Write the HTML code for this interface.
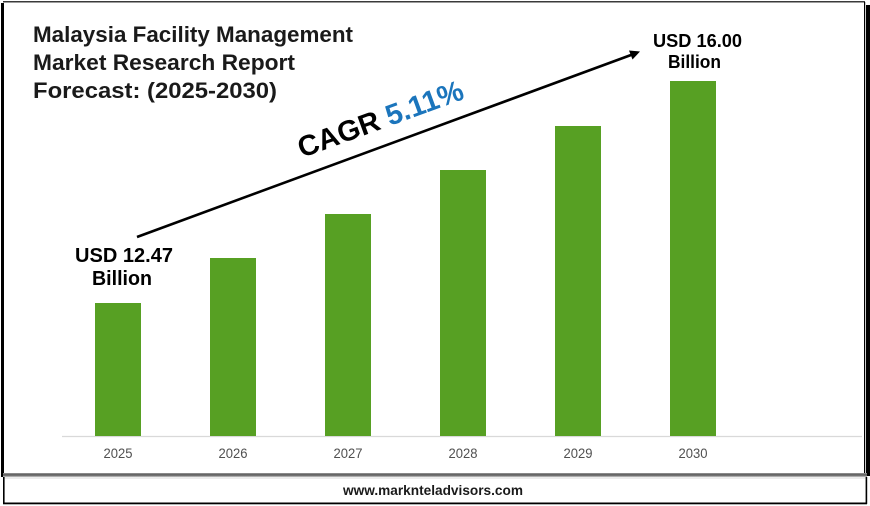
<!DOCTYPE html>
<html>
<head>
<meta charset="utf-8">
<style>
  html, body { margin:0; padding:0; background:#ffffff; }
  body { width:870px; height:506px; overflow:hidden; }
  svg { display:block; }
  text { font-family:"Liberation Sans", Arial, sans-serif; }
</style>
</head>
<body>
<svg width="870" height="506" viewBox="0 0 870 506" xmlns="http://www.w3.org/2000/svg">
  <defs>
    <linearGradient id="band" x1="0" y1="0" x2="0" y2="1">
      <stop offset="0" stop-color="#9a9a9a"/>
      <stop offset="0.5" stop-color="#555555"/>
      <stop offset="1" stop-color="#c8c8c8"/>
    </linearGradient>
  </defs>
  <rect x="0" y="0" width="870" height="506" fill="#ffffff"/>

  <!-- main frame -->
  <rect x="3" y="1" width="862" height="1.5" fill="#3a3a3a"/>
  <rect x="1" y="3" width="3" height="474" fill="#000"/>
  <rect x="864" y="2" width="1.2" height="472" fill="#000"/>
  <rect x="866" y="5" width="4" height="471" fill="#000"/>
  <rect x="3" y="473" width="864" height="4" fill="url(#band)"/>
  <rect x="3" y="477" width="864" height="2" fill="#ececec"/>

  <!-- footer box -->
  <rect x="3" y="477" width="1.6" height="27" fill="#000"/>
  <rect x="865.6" y="477" width="1.6" height="27" fill="#000"/>
  <rect x="3" y="502.5" width="864" height="1.8" fill="#000"/>
  <text x="433" y="495" font-size="13.5" font-weight="bold" fill="#1a1a1a" text-anchor="middle" textLength="180" lengthAdjust="spacingAndGlyphs">www.marknteladvisors.com</text>

  <!-- title -->
  <text x="33" y="42" font-size="22" font-weight="bold" fill="#1a1a1a" textLength="320" lengthAdjust="spacingAndGlyphs">Malaysia Facility Management</text>
  <text x="33" y="70" font-size="22" font-weight="bold" fill="#1a1a1a" textLength="262" lengthAdjust="spacingAndGlyphs">Market Research Report</text>
  <text x="33" y="98" font-size="22" font-weight="bold" fill="#1a1a1a" textLength="244" lengthAdjust="spacingAndGlyphs">Forecast: (2025-2030)</text>

  <!-- axis -->
  <line x1="62" y1="436.5" x2="862" y2="436.5" stroke="#d9d9d9" stroke-width="1.2"/>

  <!-- bars -->
  <g fill="#57a023">
    <rect x="95" y="303" width="46" height="133"/>
    <rect x="210" y="258" width="46" height="178"/>
    <rect x="325" y="214" width="46" height="222"/>
    <rect x="440" y="170" width="46" height="266"/>
    <rect x="555" y="126" width="46" height="310"/>
    <rect x="670" y="81" width="46" height="355"/>
  </g>

  <!-- year labels -->
  <g font-size="13.5" fill="#505050" text-anchor="middle">
    <text x="118" y="458" textLength="29" lengthAdjust="spacingAndGlyphs">2025</text>
    <text x="233" y="458" textLength="29" lengthAdjust="spacingAndGlyphs">2026</text>
    <text x="348" y="458" textLength="29" lengthAdjust="spacingAndGlyphs">2027</text>
    <text x="463" y="458" textLength="29" lengthAdjust="spacingAndGlyphs">2028</text>
    <text x="578" y="458" textLength="29" lengthAdjust="spacingAndGlyphs">2029</text>
    <text x="693" y="458" textLength="29" lengthAdjust="spacingAndGlyphs">2030</text>
  </g>

  <!-- arrow -->
  <line x1="137" y1="237" x2="631" y2="55" stroke="#000" stroke-width="2.6"/>
  <polygon points="640,51.5 629,50.5 632.5,59.5" fill="#000"/>

  <!-- CAGR -->
  <g transform="translate(302,158) rotate(-20)">
    <text x="0" y="0" font-size="29" font-weight="bold" fill="#000">CAGR <tspan fill="#1b75bc">5.11%</tspan></text>
  </g>

  <!-- value labels -->
  <text x="124" y="262" font-size="20" font-weight="bold" fill="#000" text-anchor="middle" textLength="98" lengthAdjust="spacingAndGlyphs">USD 12.47</text>
  <text x="122" y="285" font-size="20" font-weight="bold" fill="#000" text-anchor="middle" textLength="60" lengthAdjust="spacingAndGlyphs">Billion</text>
  <text x="697.5" y="47" font-size="18" font-weight="bold" fill="#000" text-anchor="middle" textLength="89" lengthAdjust="spacingAndGlyphs">USD 16.00</text>
  <text x="694.5" y="68" font-size="18" font-weight="bold" fill="#000" text-anchor="middle" textLength="53" lengthAdjust="spacingAndGlyphs">Billion</text>
</svg>
</body>
</html>
